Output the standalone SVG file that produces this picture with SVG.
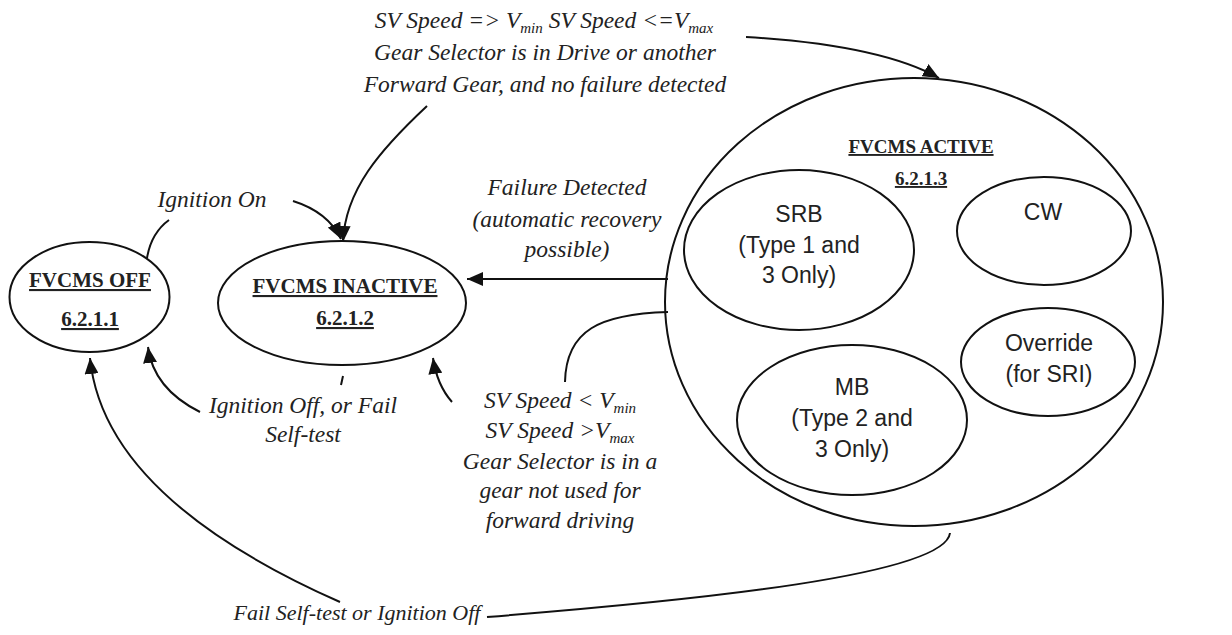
<svg xmlns="http://www.w3.org/2000/svg" width="1232" height="635" viewBox="0 0 1232 635">
<style>
.node{fill:none;stroke:#111;stroke-width:2}
.conn{fill:none;stroke:#111;stroke-width:2}
.lbl{font-family:"Liberation Serif","Times New Roman",serif;font-style:italic;font-size:23.5px;fill:#222;text-anchor:middle}
.ttl{font-family:"Liberation Serif","Times New Roman",serif;font-weight:bold;font-size:21px;fill:#222;text-anchor:middle;text-decoration:underline}
.sans{font-family:"Liberation Sans",Arial,sans-serif;font-size:23px;fill:#222;text-anchor:middle}
.sub{font-size:15px}
</style>
<defs>
<marker id="arr" viewBox="0 0 16 14" refX="16" refY="7" markerWidth="16" markerHeight="14" markerUnits="userSpaceOnUse" orient="auto"><path d="M0,0 L16,7 L0,14 z" fill="#111"/></marker>
</defs>
<rect width="1232" height="635" fill="#fff"/>
<g id="connectors">
<path class="conn" d="M746,37 Q880,45 939,78" marker-end="url(#arr)"/>
<path class="conn" d="M427,106 C380,150 345,190 343,242" marker-end="url(#arr)"/>
<path class="conn" d="M147,258 C150,240 158,228 169,220"/>
<path class="conn" d="M293,201 Q328,212 341,239" marker-end="url(#arr)"/>
<path class="conn" d="M668,279 L467,279" marker-end="url(#arr)"/>
<path class="conn" d="M668,312 C600,314 566,330 565,382"/>
<path class="conn" d="M452,402 Q437,385 433,358" marker-end="url(#arr)"/>
<path class="conn" d="M343,376 L341,385"/>
<path class="conn" d="M200,412 C172,398 152,378 148,347" marker-end="url(#arr)"/>
<path class="conn" d="M950,533 C945,575 700,600 487,617"/>
<path class="conn" d="M340,602 C200,540 100,460 90,358" marker-end="url(#arr)"/>
</g>
<g id="labels">
<text class="lbl" x="544" y="28">SV Speed =&gt; V<tspan class="sub" dy="5">min</tspan><tspan dy="-5"> SV Speed &lt;=V</tspan><tspan class="sub" dy="5">max</tspan></text>
<text class="lbl" x="545" y="60">Gear Selector is in Drive or another</text>
<text class="lbl" x="545" y="92">Forward Gear, and no failure detected</text>
<text class="lbl" x="212" y="207">Ignition On</text>
<text class="lbl" x="567" y="195">Failure Detected</text>
<text class="lbl" x="567" y="227">(automatic recovery</text>
<text class="lbl" x="567" y="257">possible)</text>
<text class="lbl" x="303" y="413">Ignition Off, or Fail</text>
<text class="lbl" x="303" y="442">Self-test</text>
<text class="lbl" x="560" y="408">SV Speed &lt; V<tspan class="sub" dy="5">min</tspan></text>
<text class="lbl" x="560" y="438">SV Speed &gt;V<tspan class="sub" dy="5">max</tspan></text>
<text class="lbl" x="560" y="469">Gear Selector is in a</text>
<text class="lbl" x="560" y="498">gear not used for</text>
<text class="lbl" x="560" y="528">forward driving</text>
<text class="lbl" x="357" y="620" style="font-size:22px">Fail Self-test or Ignition Off</text>
</g>
<g id="fvcms-off">
<ellipse class="node" cx="89.5" cy="297" rx="80" ry="55"/>
<text class="ttl" x="90" y="287">FVCMS OFF</text>
<text class="ttl" x="90" y="326">6.2.1.1</text>
</g>
<g id="fvcms-inactive">
<ellipse class="node" cx="342" cy="303" rx="124" ry="62"/>
<text class="ttl" x="345" y="293">FVCMS INACTIVE</text>
<text class="ttl" x="345" y="325">6.2.1.2</text>
</g>
<g id="fvcms-active">
<ellipse class="node" cx="914" cy="302" rx="249" ry="224"/>
<text class="ttl" x="921" y="153" style="font-size:19px">FVCMS ACTIVE</text>
<text class="ttl" x="921" y="185" style="font-size:19px">6.2.1.3</text>
</g>
<g id="srb">
<ellipse class="node" cx="799" cy="250" rx="115" ry="80"/>
<text class="sans" x="799" y="222">SRB</text>
<text class="sans" x="799" y="253">(Type 1 and</text>
<text class="sans" x="799" y="283">3 Only)</text>
</g>
<g id="cw">
<ellipse class="node" cx="1044" cy="231" rx="87" ry="54"/>
<text class="sans" x="1043" y="220">CW</text>
</g>
<g id="override">
<ellipse class="node" cx="1048" cy="362" rx="87" ry="54"/>
<text class="sans" x="1049" y="351">Override</text>
<text class="sans" x="1049" y="382">(for SRI)</text>
</g>
<g id="mb">
<ellipse class="node" cx="852" cy="420" rx="115" ry="75"/>
<text class="sans" x="852" y="395">MB</text>
<text class="sans" x="852" y="426">(Type 2 and</text>
<text class="sans" x="852" y="457">3 Only)</text>
</g>
</svg>
